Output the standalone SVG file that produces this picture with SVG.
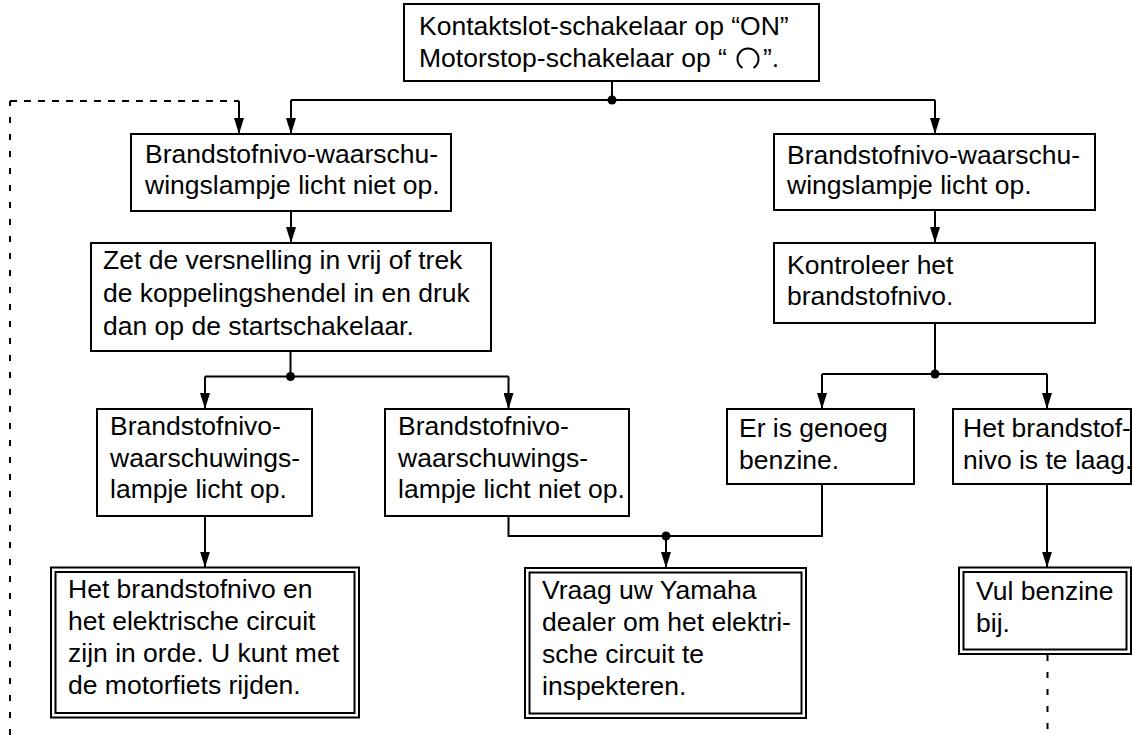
<svg xmlns="http://www.w3.org/2000/svg" width="1133" height="735" viewBox="0 0 1133 735">
<style>
.box{fill:#fff;stroke:#000;stroke-width:2}
.t{font-family:"Liberation Sans",Arial,Helvetica,sans-serif;font-size:26.5px;fill:#000}
.c{fill:none;stroke:#000;stroke-width:2}
.a{fill:none;stroke:#000;stroke-width:2;marker-end:url(#arr)}
.dh{fill:none;stroke:#000;stroke-width:2;stroke-dasharray:7 7}
.dv{fill:none;stroke:#000;stroke-width:2;stroke-dasharray:6 11}
.dot{fill:#000}
</style>
<defs>
<marker id="arr" viewBox="0 0 16 10" refX="16" refY="5" markerWidth="16" markerHeight="10" markerUnits="userSpaceOnUse" orient="auto">
<path d="M0,0 L16,5 L0,10 z" fill="#000"/>
</marker>
</defs>
<rect width="1133" height="735" fill="#fff"/>

<g id="connectors">
<path class="c" d="M612,81 V100 M291,100 H935"/>
<path class="a" d="M291,100 V134"/>
<path class="a" d="M935,100 V134"/>
<circle class="dot" cx="612" cy="100" r="4.5"/>
<path class="dv" d="M10,735 V101"/>
<path class="dh" d="M10,101 H239"/>
<path class="a" d="M239,101 V134"/>
<path class="a" d="M291,211 V243"/>
<path class="a" d="M935,210 V243"/>
<path class="c" d="M290.5,351 V376.5 M205,376.5 H508.5"/>
<path class="a" d="M205,376.5 V409"/>
<path class="a" d="M508.5,376.5 V409"/>
<circle class="dot" cx="290.5" cy="376.5" r="4.5"/>
<path class="c" d="M935,323 V374 M822,374 H1047"/>
<path class="a" d="M822,374 V409"/>
<path class="a" d="M1047,374 V409"/>
<circle class="dot" cx="935" cy="374" r="4.5"/>
<path class="a" d="M205,516 V567.5"/>
<path class="c" d="M508.5,516 V536 H822 V484"/>
<path class="a" d="M666,536 V568"/>
<circle class="dot" cx="666" cy="536" r="4.5"/>
<path class="a" d="M1047,484 V567.5"/>
<path class="dv" d="M1047.5,655 V735"/>
</g>

<g id="n-top">
<rect class="box" x="404" y="4" width="415" height="77"/>
<text class="t" x="419" y="35">Kontaktslot-schakelaar op “ON”</text>
<text class="t" x="419" y="67">Motorstop-schakelaar op “</text>
<path d="M742.5,68 A10.5,10.5 0 1 1 753.5,68" fill="none" stroke="#000" stroke-width="2"/>
<text class="t" x="763" y="67">”.</text>
</g>

<g id="n-a">
<rect class="box" x="131" y="134" width="320" height="77"/>
<text class="t" x="145" y="163">Brandstofnivo-waarschu-</text>
<text class="t" x="145" y="194">wingslampje licht niet op.</text>
</g>

<g id="n-b">
<rect class="box" x="774" y="134" width="321" height="76"/>
<text class="t" x="787" y="164">Brandstofnivo-waarschu-</text>
<text class="t" x="787" y="194">wingslampje licht op.</text>
</g>

<g id="n-c">
<rect class="box" x="91" y="243" width="400" height="108"/>
<text class="t" x="103" y="269">Zet de versnelling in vrij of trek</text>
<text class="t" x="103" y="302">de koppelingshendel in en druk</text>
<text class="t" x="103" y="334.5">dan op de startschakelaar.</text>
</g>

<g id="n-d">
<rect class="box" x="774" y="243" width="321" height="80"/>
<text class="t" x="787" y="273.5">Kontroleer het</text>
<text class="t" x="787" y="304.5">brandstofnivo.</text>
</g>

<g id="n-e">
<rect class="box" x="97" y="409" width="215" height="107"/>
<text class="t" x="110" y="435">Brandstofnivo-</text>
<text class="t" x="110" y="466.5">waarschuwings-</text>
<text class="t" x="110" y="498">lampje licht op.</text>
</g>

<g id="n-f">
<rect class="box" x="385" y="409" width="244" height="107"/>
<text class="t" x="398" y="435">Brandstofnivo-</text>
<text class="t" x="398" y="466.5">waarschuwings-</text>
<text class="t" x="398" y="498">lampje licht niet op.</text>
</g>

<g id="n-g">
<rect class="box" x="727" y="409" width="187" height="75"/>
<text class="t" x="739" y="437">Er is genoeg</text>
<text class="t" x="739" y="469">benzine.</text>
</g>

<g id="n-h">
<rect class="box" x="953" y="409" width="178" height="75"/>
<text class="t" x="963" y="437">Het brandstof-</text>
<text class="t" x="963" y="469">nivo is te laag.</text>
</g>

<g id="n-ok">
<rect class="box" x="51" y="567.5" width="308" height="150"/>
<rect class="box" x="55.5" y="572" width="299" height="141"/>
<text class="t" x="68" y="598">Het brandstofnivo en</text>
<text class="t" x="68" y="630">het elektrische circuit</text>
<text class="t" x="68" y="662">zijn in orde. U kunt met</text>
<text class="t" x="68" y="694">de motorfiets rijden.</text>
</g>

<g id="n-vraag">
<rect class="box" x="525" y="568" width="281" height="150"/>
<rect class="box" x="529.5" y="572.5" width="272" height="141"/>
<text class="t" x="542" y="599">Vraag uw Yamaha</text>
<text class="t" x="542" y="631">dealer om het elektri-</text>
<text class="t" x="542" y="663">sche circuit te</text>
<text class="t" x="542" y="695">inspekteren.</text>
</g>

<g id="n-vul">
<rect class="box" x="959" y="567.5" width="172" height="86.5"/>
<rect class="box" x="963.5" y="572" width="163" height="77.5"/>
<text class="t" x="976" y="600">Vul benzine</text>
<text class="t" x="976" y="632">bij.</text>
</g>
</svg>
